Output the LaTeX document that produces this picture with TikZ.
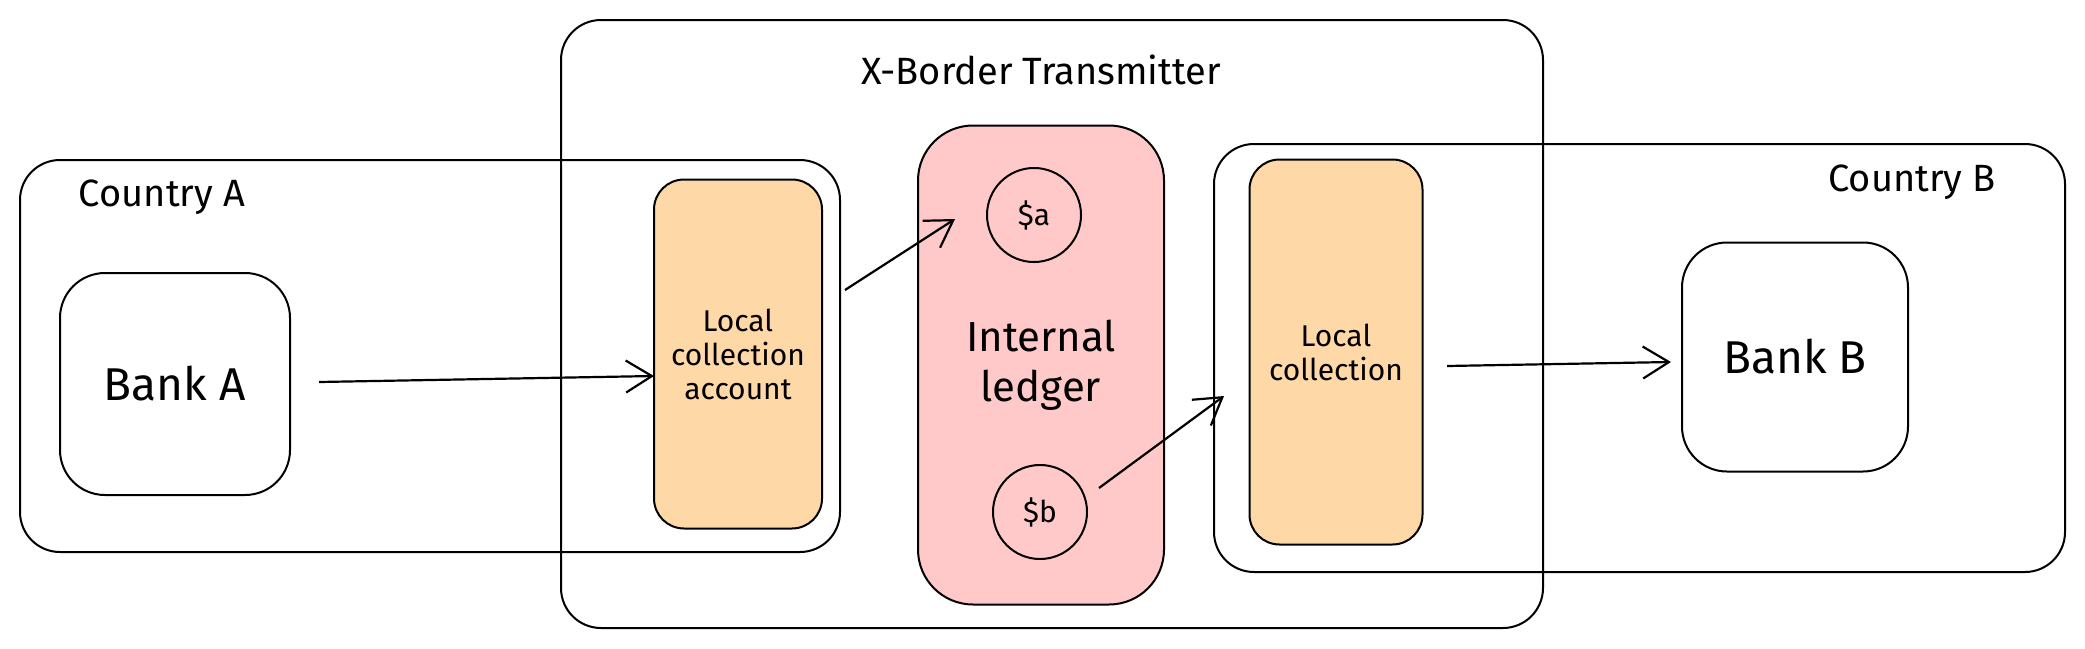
\documentclass[tikz,border=0pt]{standalone}
\usepackage{fontspec}
\setmainfont{Fira Sans}
\usetikzlibrary{arrows.meta}
\definecolor{orng}{HTML}{FFD8A8}
\definecolor{pnk}{HTML}{FFC9C9}
\begin{document}
\begin{tikzpicture}[x=1pt,y=-1pt,
  box/.style={draw,line width=2pt,rounded corners=40pt},
  arr/.style={draw,line width=2.2pt,-{Straight Barb[length=26pt,width=32pt,line width=2.2pt]}},
  txt/.style={font=\fontsize{#1}{#1}\selectfont,align=center}]
\useasboundingbox (0,0) rectangle (2085,648);
\draw[box] (20,160) rectangle (840,552);
\draw[box] (561,20) rectangle (1543,628);
\draw[box] (1214,144) rectangle (2065,572);
\node[box,minimum width=230pt,minimum height=222pt,rounded corners=45pt] (bankA) at (175,384) {};
\node[box,minimum width=226pt,minimum height=229pt,rounded corners=45pt] (bankB) at (1795,357) {};
\node[box,fill=orng,minimum width=168pt,minimum height=349pt,rounded corners=30pt] (lca) at (738,354) {};
\node[box,fill=pnk,minimum width=246pt,minimum height=479pt,rounded corners=55pt] (led) at (1041,365) {};
\node[box,fill=orng,minimum width=173pt,minimum height=385pt,rounded corners=30pt] (lcb) at (1336,352) {};
\node[draw,line width=2pt,circle,minimum size=94pt] (sa) at (1034,215) {};
\node[draw,line width=2pt,circle,minimum size=94pt] (sb) at (1040,512) {};
\node[txt=38] (xb) at (1041,70) {X-Border Transmitter};
\node[txt=38] (ca) at (162,197) {Country A};
\node[txt=38] (cb) at (1912,182) {Country B};
\node[txt=46] at (bankA) {Bank A};
\node[txt=46] at (bankB) {Bank B};
\node[txt=30] at (lca) {Local\\[4pt]collection\\[4pt]account};
\node[txt=30] at (lcb) {Local\\[4pt]collection};
\node[txt=42] at (led) {Internal\\[8pt]ledger};
\node[txt=30] at (sa) {\$a};
\node[txt=30] at (sb) {\$b};
\coordinate (a1s) at (319,382); \coordinate (a1e) at (654,376);
\coordinate (a2s) at (845,290); \coordinate (a2e) at (955,219);
\coordinate (a3s) at (1099,488); \coordinate (a3e) at (1224,396);
\coordinate (a4s) at (1447,366); \coordinate (a4e) at (1671,362);
\draw[arr] (a1s) -- (a1e);
\draw[arr] (a2s) -- (a2e);
\draw[arr] (a3s) -- (a3e);
\draw[arr] (a4s) -- (a4e);
\end{tikzpicture}
\end{document}
